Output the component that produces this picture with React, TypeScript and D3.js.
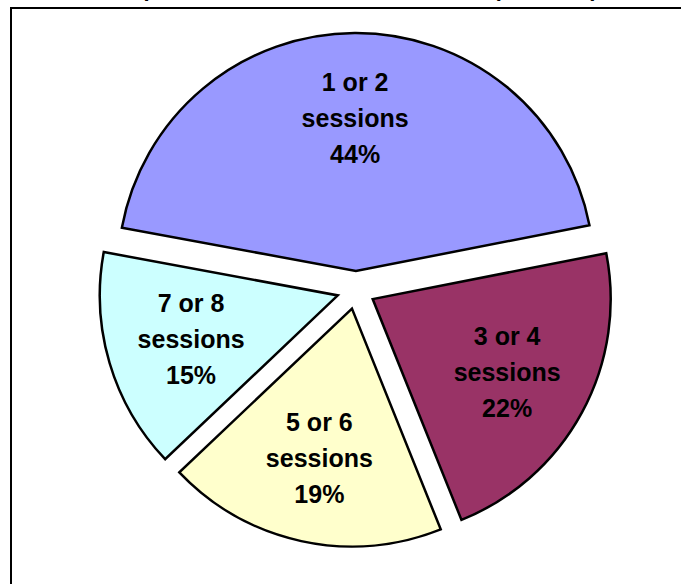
import React from "react";
import * as d3 from "d3";

// Share of participants by number of group sessions attended
const categories: string[] = ["1 or 2", "3 or 4", "5 or 6", "7 or 8"];
const shares: number[] = [44, 22, 19, 15];
const sliceColors: string[] = ["#9999FF", "#993366", "#FFFFCC", "#CCFFFF"];
const titleText = "Group Sessions Attended in Year One (N = 1043)";

const W = 681;
const H = 584;
const CX = 356;
const CY = 290;
const R = 238;
const EXPLODE = 19;
const LABEL_R = 153;
const START = (-79.5 * Math.PI) / 180;
const FONT = "Arial, 'Liberation Sans', sans-serif";

type Row = { label: string; value: number; color: string };

export default function App() {
  const rows: Row[] = categories.map((c, i) => ({
    label: c,
    value: shares[i],
    color: sliceColors[i],
  }));

  const pie = d3
    .pie<Row>()
    .value((d) => d.value)
    .sort(null)
    .startAngle(START)
    .endAngle(START + 2 * Math.PI);
  const arcs = pie(rows);

  const arc = d3.arc<d3.PieArcDatum<Row>>().innerRadius(0).outerRadius(R);
  const labelArc = d3
    .arc<d3.PieArcDatum<Row>>()
    .innerRadius(LABEL_R)
    .outerRadius(LABEL_R);

  return (
    <svg
      width={W}
      height={H}
      style={{ position: "absolute", left: 0, top: 0, background: "#fff" }}
    >
      {/* chart title, sitting above the visible area */}
      <text
        x={91}
        y={-4}
        fontFamily={FONT}
        fontWeight="bold"
        fontSize={22}
        fill="#000"
      >
        {titleText}
      </text>

      {/* chart area frame */}
      <path
        d={`M11,${H + 2} L11,8 L${W + 2},8`}
        fill="none"
        stroke="#000"
        strokeWidth={2}
      />

      <g transform={`translate(${CX},${CY})`}>
        {arcs.map((a, i) => {
          const mid = (a.startAngle + a.endAngle) / 2;
          const ox = EXPLODE * Math.sin(mid);
          const oy = -EXPLODE * Math.cos(mid);
          const [lx, ly] = labelArc.centroid(a);
          const lines = [a.data.label, "sessions", `${a.data.value}%`];
          return (
            <g key={i} transform={`translate(${ox},${oy})`}>
              <path
                d={arc(a) || ""}
                fill={a.data.color}
                stroke="#000"
                strokeWidth={2.5}
                strokeLinejoin="miter"
              />
              <text
                x={lx}
                y={ly}
                textAnchor="middle"
                fontFamily={FONT}
                fontWeight="bold"
                fontSize={25}
                fill="#000"
              >
                {lines.map((t, j) => (
                  <tspan key={j} x={lx} y={ly + (j - 1) * 36 + 9}>
                    {t}
                  </tspan>
                ))}
              </text>
            </g>
          );
        })}
      </g>
    </svg>
  );
}
